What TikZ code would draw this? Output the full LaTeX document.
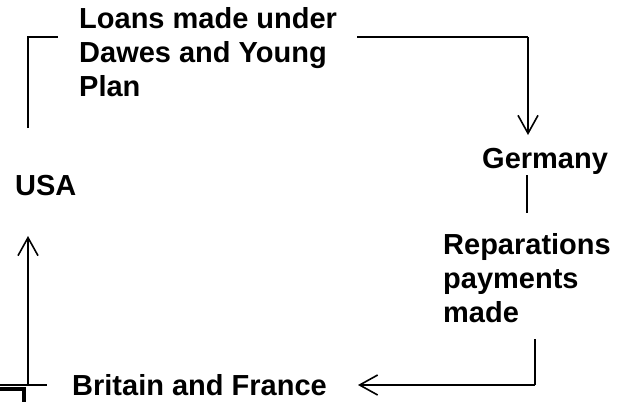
\documentclass[tikz,border=0pt]{standalone}
\usepackage{fontspec}
\setmainfont{Liberation Sans}
\usetikzlibrary{arrows.meta}
\tikzset{
	country/.style={font=\fontsize{29}{34}\selectfont\bfseries, inner sep=0pt, anchor=base west, align=left},
	link/.style={line width=2.4pt},
	flow/.style={line width=1.8pt, -{Straight Barb[length=18pt,width=20pt,line width=1.6pt]}},
}

\begin{document}
\begin{tikzpicture}[x=1pt,y=-1pt]
	\useasboundingbox (0,0) rectangle (628,401);
	\clip (0,0) rectangle (628,401);
	% countries and flows (base = last line)
	\node[country] (usa) at (15,195) {USA};
	\node[country] (germany) at (482,168) {Germany};
	\node[country] (britain) at (72,395) {Britain and France};
	\node[country] (loans) at (79,97) {Loans made under\\Dawes and Young\\Plan};
	\node[country] (repay) at (443,322) {Reparations\\payments\\made};
	% corners of the connectors
	\coordinate (usaup) at (28,128);
	\coordinate (tl) at (28,37);
	\coordinate (tlend) at (58,37);
	\coordinate (trstart) at (357,37);
	\coordinate (tr) at (528,37);
	\coordinate (gtip) at (528,135);
	\coordinate (gdown) at (527,175);
	\coordinate (gend) at (527,213);
	\coordinate (rstart) at (535,339);
	\coordinate (br) at (535,385);
	\coordinate (btip) at (358,385);
	\coordinate (bl) at (28,385);
	\coordinate (utip) at (28,236);
	\draw[link] (usaup) -- (tl) -- (tlend);
	\draw[link] (trstart) -- (tr);
	\draw[flow] (tr) -- (gtip);
	\draw[link] (gdown) -- (gend);
	\draw[link] (rstart) -- (br);
	\draw[flow, line width=2.4pt] (br) -- (btip);
	\draw[link, line width=2pt] (0,385) -- (47,385);
	\draw[flow] (bl) -- (utip);
	% corner of a box at the lower left
	\draw[line width=4.5pt] (-10,389) -- (24,389) -- (24,420);
\end{tikzpicture}
\end{document}
